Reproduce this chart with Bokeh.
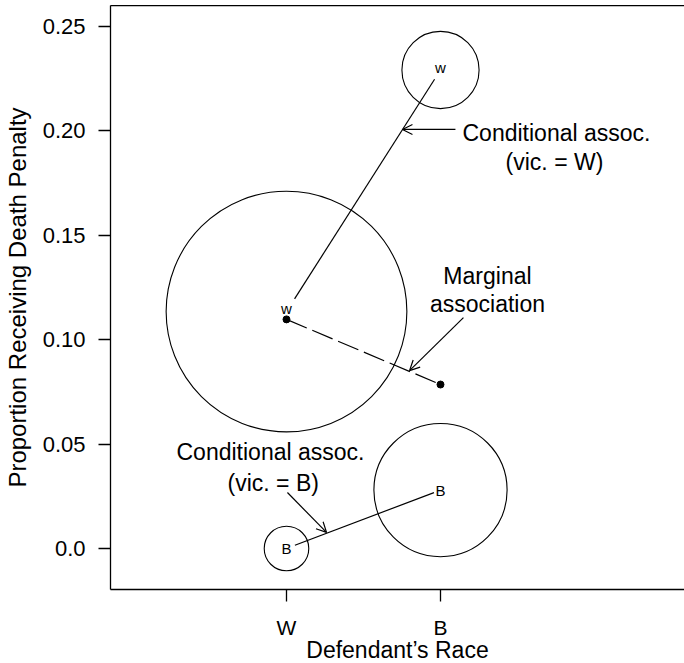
import math
from bokeh.plotting import figure
from bokeh.models import Range1d, FixedTicker, LinearAxis, Label, Arrow, OpenHead
from bokeh.embed import file_html
from bokeh.resources import INLINE
from bokeh.core.properties import value

# ---- data ----
defendant_race = ["W", "B"]
x_pos = [1, 2]
vic_white_deaths = [53, 11]
vic_white_totals = [467, 48]
vic_black_deaths = [0, 4]
vic_black_totals = [16, 143]
marg_deaths = [53, 15]
marg_totals = [483, 191]
y_ticks = [0, 0.05, 0.1, 0.15, 0.2, 0.25]
y_tick_labels = ["0.0", "0.05", "0.10", "0.15", "0.20", "0.25"]

vw_prop = [d / n for d, n in zip(vic_white_deaths, vic_white_totals)]
vb_prop = [d / n for d, n in zip(vic_black_deaths, vic_black_totals)]
mg_prop = [d / n for d, n in zip(marg_deaths, marg_totals)]

FONT = "Liberation Sans"
X0, X1 = -0.142857, 3.584416
Y0, Y1 = -0.019636, 0.260060
FRAME_W, FRAME_H = 574, 584
SX = FRAME_W / (X1 - X0)
SY = FRAME_H / (Y1 - Y0)
K = 5.57  # circle radius (px) per sqrt(count)

p = figure(width=676, height=658, output_backend="svg", toolbar_location=None,
           x_range=Range1d(X0, X1), y_range=Range1d(Y0, Y1),
           frame_width=FRAME_W, frame_height=FRAME_H,
           min_border_left=102, min_border_right=0, min_border_top=0, min_border_bottom=74,
           x_axis_location=None, y_axis_location=None)
p.margin = (5, 0, 0, 0)
p.outline_line_color = None
p.background_fill_color = "white"
p.border_fill_color = "white"
p.xgrid.visible = False
p.ygrid.visible = False

def style_axis(ax, tick_size, label_size):
    ax.axis_line_color = "black"
    ax.axis_line_width = 1.3
    ax.major_tick_line_color = "black"
    ax.major_tick_line_width = 1.3
    ax.major_tick_in = 0
    ax.major_tick_out = 12
    ax.minor_tick_line_color = None
    ax.major_label_text_font = FONT
    ax.major_label_text_font_size = tick_size
    ax.major_label_text_color = "black"
    ax.axis_label_text_font = FONT
    ax.axis_label_text_font_size = label_size
    ax.axis_label_text_font_style = "normal"
    ax.axis_label_text_color = "black"

yax = LinearAxis(ticker=FixedTicker(ticks=y_ticks),
                 axis_label="Proportion Receiving Death Penalty")
yax.major_label_overrides = {t: l for t, l in zip(y_ticks, y_tick_labels)}
style_axis(yax, "22px", "24px")
yax.major_label_standoff = 13
yax.axis_label_standoff = 9
p.add_layout(yax, "left")

xax = LinearAxis(ticker=FixedTicker(ticks=x_pos), axis_label="Defendant\u2019s Race")
xax.major_label_overrides = {t: l for t, l in zip(x_pos, defendant_race)}
style_axis(xax, "21px", "23px")
xax.major_label_standoff = 14
xax.axis_label_standoff = -5
p.add_layout(xax, "below")

top = LinearAxis(ticker=FixedTicker(ticks=[]))
top.axis_line_color = "black"
top.axis_line_width = 1.3
top.major_tick_out = 0
top.major_tick_in = 0
top.major_label_text_font_size = "0px"
top.major_label_standoff = 0
top.minor_tick_line_color = None
p.add_layout(top, "above")

# circles sized by count
sizes_vw = [2 * K * math.sqrt(n) for n in vic_white_totals]
sizes_vb = [2 * K * math.sqrt(n) for n in vic_black_totals]
p.scatter(x_pos, vw_prop, size=sizes_vw, marker="circle", fill_color=None,
          line_color="black", line_width=1.1)
p.scatter(x_pos, vb_prop, size=sizes_vb, marker="circle", fill_color=None,
          line_color="black", line_width=1.1)

# conditional association lines (with gaps around labels)
def shortened(xa, ya, xb, yb, g0, g1):
    dx = (xb - xa) * SX
    dy = (yb - ya) * SY
    L = math.hypot(dx, dy)
    ux, uy = dx / L, dy / L
    return ([xa + g0 * ux / SX, xb - g1 * ux / SX],
            [ya + g0 * uy / SY, yb - g1 * uy / SY])

lx, ly = shortened(x_pos[0], vw_prop[0], x_pos[1], vw_prop[1], 15, 11)
p.line(lx, ly, line_color="black", line_width=1.2)
lx, ly = shortened(x_pos[0], vb_prop[0], x_pos[1], vb_prop[1], 9, 7)
p.line(lx, ly, line_color="black", line_width=1.2)

# marginal association
p.line(x_pos, mg_prop, line_color="black", line_width=1.2, line_dash="22 6")
p.scatter(x_pos, mg_prop, size=7, marker="circle", fill_color="black", line_color="black")

# point labels
p.text(x_pos, vw_prop, text=["w", "w"], text_align="center", text_baseline="middle",
       y_offset=-3, text_font=value(FONT), text_font_size="15px", text_color="black")
p.text(x_pos, vb_prop, text=["B", "B"], text_align="center", text_baseline="middle",
       text_font=value(FONT), text_font_size="15px", text_color="black")

# annotations
ann_text = [
    ("Conditional assoc.", 2.753, 0.1992),
    ("(vic. = W)", 2.740, 0.1849),
    ("Marginal", 2.305, 0.1307),
    ("association", 2.305, 0.1173),
    ("Conditional assoc.", 0.896, 0.0460),
    ("(vic. = B)", 0.914, 0.0316),
]
for t, x, y in ann_text:
    p.add_layout(Label(x=x, y=y, text=t, text_align="center", text_baseline="middle",
                       text_font=FONT, text_font_size="23px", text_color="black"))

arrows = [
    (2.097, 0.2007, 1.753, 0.2007),
    (2.149, 0.1106, 1.799, 0.0852),
    (1.006, 0.0268, 1.260, 0.0077),
]
for xs, ys, xe, ye in arrows:
    p.add_layout(Arrow(x_start=xs, y_start=ys, x_end=xe, y_end=ye,
                       line_color="black", line_width=1.2,
                       end=OpenHead(size=10, line_color="black", line_width=1.2)))

open("out.html", "w").write(file_html(p, INLINE))
